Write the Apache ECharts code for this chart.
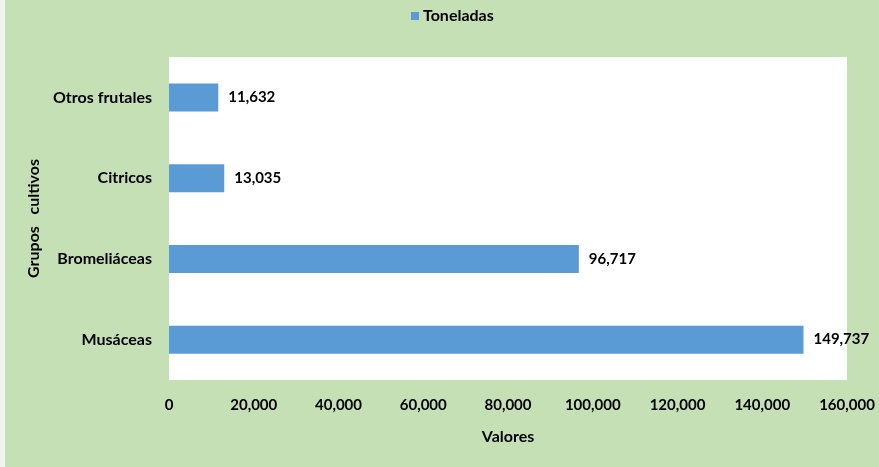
<!DOCTYPE html>
<html>
<head>
<meta charset="utf-8">
<script src="https://cdn.jsdelivr.net/npm/echarts@6/dist/echarts.min.js"></script>
<style>
    html, body { margin: 0; padding: 0; background: #f2f2f2; }
    #J_bar { position: absolute; left: 5px; top: 0; width: 874px; height: 467px; }
</style>
</head>
<body>
<div id="J_bar"></div>
<script>
var categories = ['Musáceas', 'Bromeliáceas', 'Citricos', 'Otros frutales'];
var toneladas = [149737, 96717, 13035, 11632];
var seriesName = 'Toneladas';
var xTitle = 'Valores';
var yTitle = 'Grupos   cultivos';

function fmt(v) {
    return Number(v).toLocaleString('en-US');
}

var myChart = echarts.init(document.getElementById('J_bar'));
var textBase = {
    color: '#000',
    fontSize: 16,
    fontWeight: 'bold',
    fontFamily: 'Lato'
};

var option = {
    backgroundColor: '#c5e0b4',
    animation: false,
    legend: {
        left: 406,
        top: 8,
        padding: 0,
        icon: 'rect',
        itemWidth: 8,
        itemHeight: 8,
        itemGap: 4,
        textStyle: { color: '#000', fontSize: 16, fontWeight: 'bold', fontFamily: 'Lato', padding: [0, 0, 0, -1] },
        data: [seriesName]
    },
    grid: {
        show: true,
        backgroundColor: '#fff',
        borderWidth: 0,
        left: 164,
        top: 57,
        right: 32,
        bottom: 87,
        containLabel: false
    },
    xAxis: {
        type: 'value',
        min: 0,
        max: 160000,
        interval: 20000,
        name: xTitle,
        nameLocation: 'middle',
        nameGap: 49,
        nameTextStyle: textBase,
        axisLine: { show: false },
        axisTick: { show: false },
        splitLine: { show: false },
        axisLabel: {
            margin: 18,
            color: '#000',
            fontSize: 15,
            fontWeight: 'bold',
            fontFamily: 'Lato',
            formatter: fmt
        }
    },
    yAxis: {
        type: 'category',
        data: categories,
        name: yTitle,
        nameLocation: 'middle',
        nameRotate: 90,
        nameGap: 117,
        nameTextStyle: textBase,
        axisLine: { show: false },
        axisTick: { show: false },
        axisLabel: {
            margin: 17,
            color: '#000',
            fontSize: 16,
            fontWeight: 'bold',
            fontFamily: 'Lato'
        }
    },
    series: [{
        name: seriesName,
        type: 'bar',
        barWidth: 28,
        itemStyle: { color: '#5b9bd5' },
        label: {
            show: true,
            position: 'right',
            distance: 10,
            color: '#000',
            fontSize: 15,
            fontWeight: 'bold',
            fontFamily: 'Lato',
            formatter: function (p) { return fmt(p.value); }
        },
        data: toneladas
    }]
};

myChart.setOption(option);
</script>
</body>
</html>
